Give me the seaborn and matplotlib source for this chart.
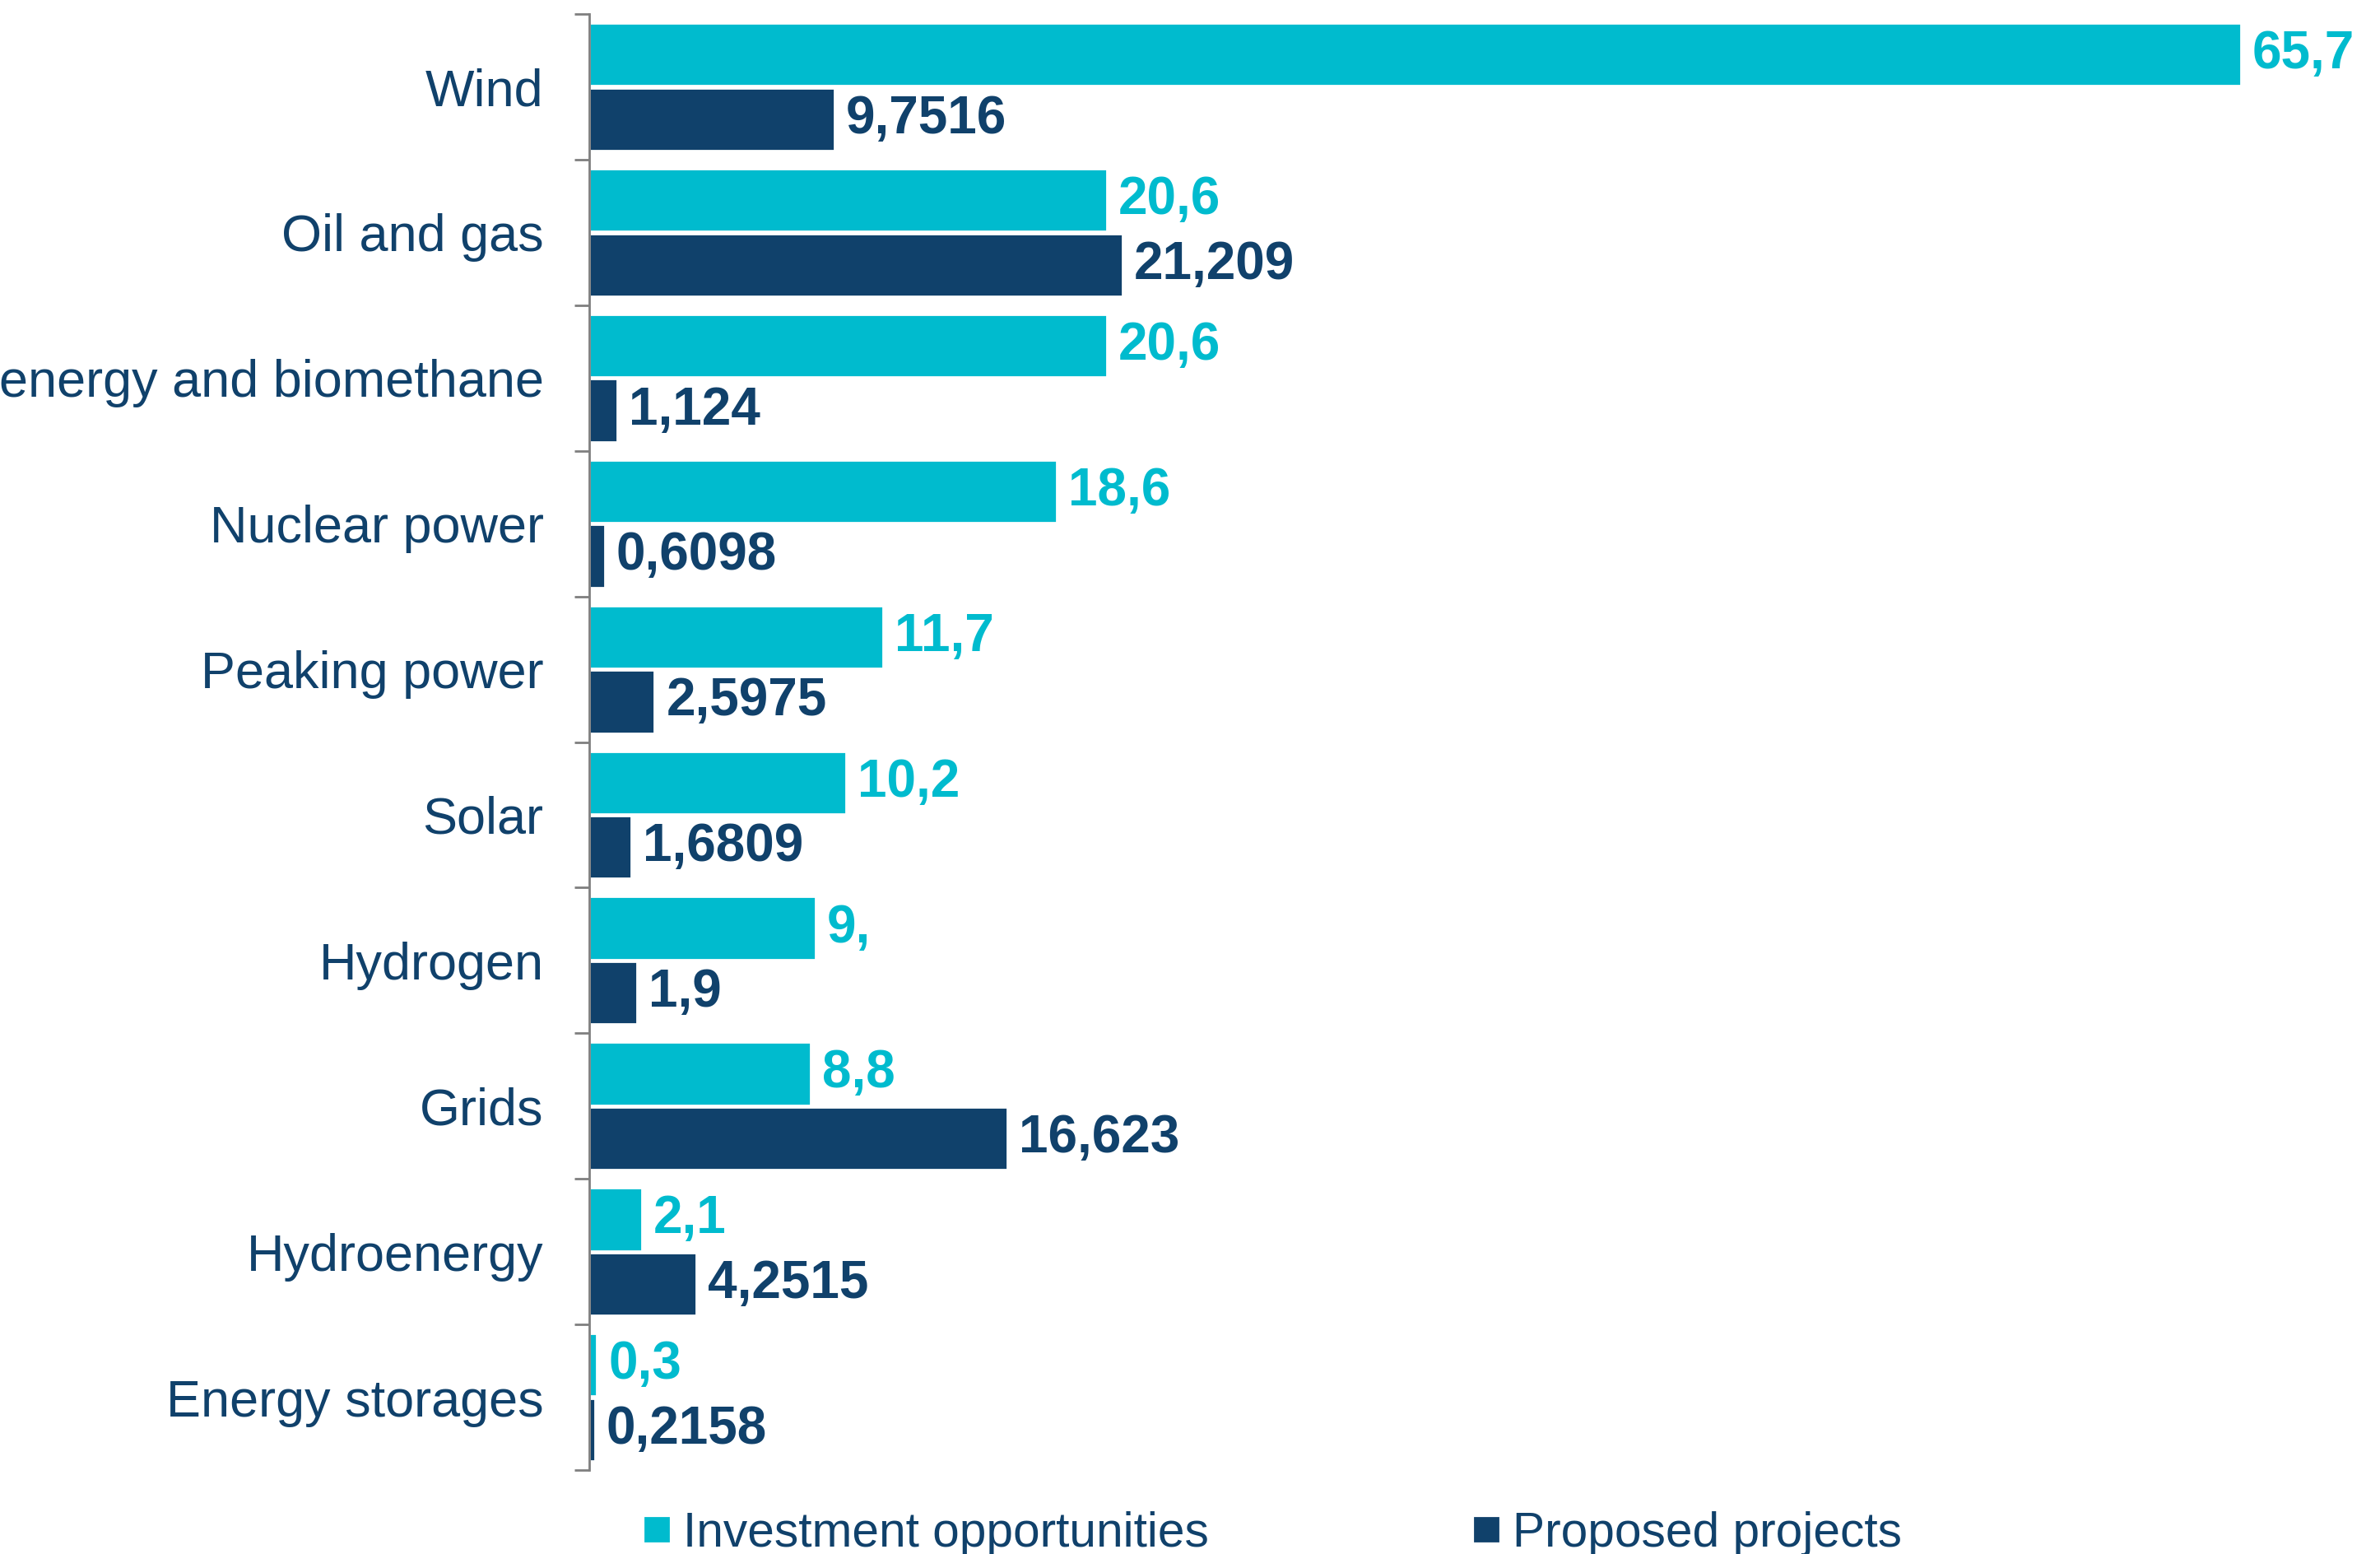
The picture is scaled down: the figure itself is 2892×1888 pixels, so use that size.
import matplotlib
matplotlib.use("Agg")
import matplotlib.pyplot as plt
from matplotlib.lines import Line2D
import seaborn as sns
import pandas as pd

categories = ["Wind", "Oil and gas", "Bioenergy and biomethane", "Nuclear power",
              "Peaking power", "Solar", "Hydrogen", "Grids", "Hydroenergy",
              "Energy storages"]
investment = [65.7, 20.6, 20.6, 18.6, 11.7, 10.2, 9.0, 8.8, 2.1, 0.3]
proposed = [9.7516, 21.209, 1.124, 0.6098, 2.5975, 1.6809, 1.9, 16.623, 4.2515, 0.2158]
investment_labels = ["65,7", "20,6", "20,6", "18,6", "11,7", "10,2", "9,", "8,8", "2,1", "0,3"]
proposed_labels = ["9,7516", "21,209", "1,124", "0,6098", "2,5975", "1,6809", "1,9",
                   "16,623", "4,2515", "0,2158"]
series = ["Investment opportunities", "Proposed projects"]

CYAN = "#00BBCE"
NAVY = "#10416B"
GRAY = "#7F7F7F"

df = pd.DataFrame({
    "Category": categories * 2,
    "Value": investment + proposed,
    "Series": [series[0]] * len(categories) + [series[1]] * len(categories),
})

sns.set_theme(style="white")
plt.rcParams["font.family"] = ["Liberation Sans", "DejaVu Sans"]

fig = plt.figure(figsize=(14.46, 9.44), dpi=200)
ax = fig.add_axes([0.2476, 0.054, 0.987 - 0.2476, 0.991 - 0.054])

sns.barplot(data=df, y="Category", x="Value", hue="Series", hue_order=series,
            order=categories, palette=[CYAN, NAVY], orient="h", width=0.889,
            gap=0.03, legend=False, ax=ax, saturation=1)

ax.set_xlim(0, 70)
ax.set_ylim(len(categories) - 0.5, -0.5)

for cont, labs, col in zip(ax.containers, [investment_labels, proposed_labels], [CYAN, NAVY]):
    ax.bar_label(cont, labels=labs, padding=5, color=col, fontsize=23,
                 fontweight="bold")

for s in ["top", "right", "bottom"]:
    ax.spines[s].set_visible(False)
ax.spines["left"].set_color(GRAY)
ax.spines["left"].set_linewidth(1.0)

ax.set_xticks([])
ax.set_xlabel("")
ax.set_ylabel("")
ax.set_yticks(range(len(categories)))
ax.set_yticklabels(categories, fontsize=22.7, color=NAVY)
ax.tick_params(axis="y", which="major", left=False, length=0, pad=20)
ax.set_yticks([i - 0.5 for i in range(len(categories) + 1)], minor=True)
ax.tick_params(axis="y", which="minor", left=True, length=6.4, width=1.0,
               color=GRAY, direction="out")

handles = [Line2D([0], [0], marker="s", linestyle="", markersize=10,
                  markerfacecolor=c, markeredgecolor=c) for c in [CYAN, NAVY]]
fig.legend(handles, series, loc="center", bbox_to_anchor=(0.535, 0.013), ncol=2,
           frameon=False, fontsize=21.1, labelcolor=NAVY, handlelength=0.5,
           handletextpad=0.3, columnspacing=5.5, borderaxespad=0, borderpad=0)

fig.savefig("out.png", dpi=200)
